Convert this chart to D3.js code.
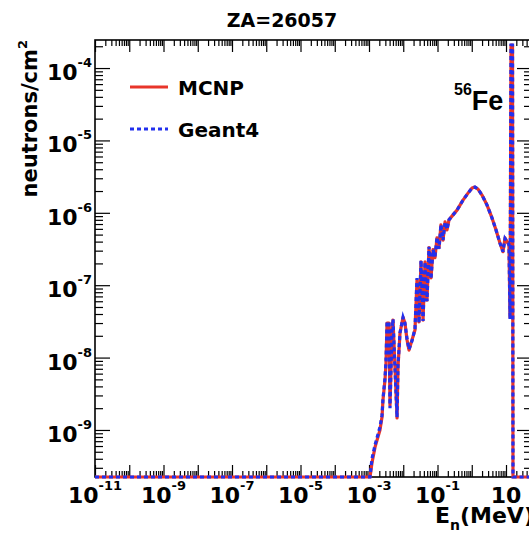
<!DOCTYPE html>
<html>
<head>
<meta charset="utf-8">
<script src="https://cdn.jsdelivr.net/npm/d3@7"></script>
<style>
  body { margin: 0; background: #fff; }
  svg { display: block; }
  text { font-family: "DejaVu Sans", "Liberation Sans", Arial, sans-serif; font-weight: bold; fill: #000; }
</style>
</head>
<body>
<script>
// neutron energy (MeV)
const energy = [1e-11, 1.07e-3, 1.22e-3, 1.50e-3, 2.09e-3, 2.40e-3, 2.56e-3, 2.93e-3, 3.13e-3, 3.36e-3,
  3.84e-3, 4.10e-3, 4.70e-3, 5.02e-3, 5.74e-3, 6.58e-3, 7.03e-3, 8.04e-3, 9.84e-3, 1.12e-2,
  1.29e-2, 1.47e-2, 1.80e-2, 2.20e-2, 2.52e-2, 2.88e-2, 3.30e-2, 3.78e-2, 4.32e-2, 4.93e-2,
  5.65e-2, 6.46e-2, 7.40e-2, 8.45e-2, 9.66e-2, 0.111, 0.126, 0.145, 0.166, 0.189,
  0.217, 0.265, 0.371, 0.556, 0.778, 1.02, 1.24, 1.52, 1.99, 2.79,
  3.90, 5.11, 6.68, 8.17, 9.35, 10.7, 12.2, 13.1, 14.0, 15.5,
  16.0, 57.4];
// neutrons/cm2 (0 = empty bin, drawn on the bottom of the frame)
const mcnp = [0, 0, 3.5e-10, 5.8e-10, 1.0e-9, 1.51e-9, 2.6e-9, 4.9e-9, 8.2e-9, 3.0e-8,
  3.0e-8, 2.2e-9, 2.19e-8, 3.3e-8, 7.4e-9, 1.47e-9, 7.4e-9, 2.19e-8, 3.6e-8, 3.0e-8,
  1.75e-8, 1.27e-8, 1.75e-8, 2.4e-8, 1.18e-7, 3.1e-8, 2.1e-7, 3.3e-8, 2.1e-7, 6.2e-8,
  3.3e-7, 1.26e-7, 3.1e-7, 2.4e-7, 4.5e-7, 3.3e-7, 6.8e-7, 4.2e-7, 7.5e-7, 5.8e-7,
  8.0e-7, 9.0e-7, 1.09e-6, 1.50e-6, 1.87e-6, 2.20e-6, 2.27e-6, 2.13e-6, 1.76e-6, 1.28e-6,
  8.5e-7, 5.8e-7, 3.8e-7, 2.9e-7, 4.5e-7, 4.0e-7, 3.6e-7, 3.6e-8, 2.08e-4, 2.08e-4,
  0, 0];
const geant4 = [0, 0, 4.0e-10, 6.2e-10, 1.1e-9, 1.6e-9, 2.7e-9, 5.2e-9, 9.0e-9, 3.1e-8,
  3.1e-8, 2.0e-9, 2.3e-8, 3.4e-8, 7.0e-9, 1.5e-9, 7.8e-9, 2.2e-8, 3.6e-8, 3.0e-8,
  1.8e-8, 1.3e-8, 1.7e-8, 2.5e-8, 1.25e-7, 3.0e-8, 2.2e-7, 3.2e-8, 2.1e-7, 6.0e-8,
  3.4e-7, 1.22e-7, 3.1e-7, 2.5e-7, 4.6e-7, 3.2e-7, 6.9e-7, 4.2e-7, 7.4e-7, 5.9e-7,
  8.0e-7, 9.0e-7, 1.09e-6, 1.50e-6, 1.87e-6, 2.20e-6, 2.27e-6, 2.13e-6, 1.76e-6, 1.28e-6,
  8.5e-7, 5.8e-7, 3.8e-7, 2.9e-7, 4.4e-7, 4.0e-7, 3.7e-7, 3.4e-8, 2.08e-4, 2.08e-4,
  0, 0];
const seriesNames = ["MCNP", "Geant4"];
const xLabelExp = [-11, -9, -7, -5, -3, -1, 1];
const yLabelExp = [-4, -5, -6, -7, -8, -9];

const W = 529, H = 534;
const frame = { left: 95, right: 532, top: 40, bottom: 477 };

const svg = d3.select("body").append("svg")
  .attr("width", W)
  .attr("height", H);

const x = d3.scaleLog().domain([1e-11, 57.4]).range([frame.left, frame.right]);
const y = d3.scaleLog().domain([2.24e-10, 2.44e-4]).range([frame.bottom, frame.top]).clamp(true);

// decade and minor tick values
function logTicks(lo, hi) {
  const major = [], minor = [];
  for (let k = Math.floor(Math.log10(lo)); k <= Math.ceil(Math.log10(hi)); k++) {
    const p = Math.pow(10, k);
    if (p >= lo && p <= hi) major.push(p);
    for (let m = 2; m <= 9; m++) {
      if (m * p >= lo && m * p <= hi) minor.push(m * p);
    }
  }
  return { major, minor };
}
const xt = logTicks(1e-11, 57.4);
const yt = logTicks(2.24e-10, 2.44e-4);

function tickAxis(axis, g) {
  g.call(axis);
  g.select(".domain").remove();
  g.selectAll(".tick line").attr("stroke", "#000").attr("stroke-width", 1.2);
}

// bottom / top
tickAxis(d3.axisBottom(x).tickValues(xt.major).tickSizeInner(-12).tickSizeOuter(0).tickFormat(""),
  svg.append("g").attr("transform", `translate(0,${frame.bottom})`));
tickAxis(d3.axisBottom(x).tickValues(xt.minor).tickSizeInner(-6).tickSizeOuter(0).tickFormat(""),
  svg.append("g").attr("transform", `translate(0,${frame.bottom})`));
tickAxis(d3.axisTop(x).tickValues(xt.major).tickSizeInner(-12).tickSizeOuter(0).tickFormat(""),
  svg.append("g").attr("transform", `translate(0,${frame.top})`));
tickAxis(d3.axisTop(x).tickValues(xt.minor).tickSizeInner(-6).tickSizeOuter(0).tickFormat(""),
  svg.append("g").attr("transform", `translate(0,${frame.top})`));
// left / right
tickAxis(d3.axisLeft(y).tickValues(yt.major).tickSizeInner(-15).tickSizeOuter(0).tickFormat(""),
  svg.append("g").attr("transform", `translate(${frame.left},0)`));
tickAxis(d3.axisLeft(y).tickValues(yt.minor).tickSizeInner(-8).tickSizeOuter(0).tickFormat(""),
  svg.append("g").attr("transform", `translate(${frame.left},0)`));
tickAxis(d3.axisRight(y).tickValues(yt.major).tickSizeInner(-15).tickSizeOuter(0).tickFormat(""),
  svg.append("g").attr("transform", `translate(${frame.right},0)`));
tickAxis(d3.axisRight(y).tickValues(yt.minor).tickSizeInner(-8).tickSizeOuter(0).tickFormat(""),
  svg.append("g").attr("transform", `translate(${frame.right},0)`));

svg.append("rect")
  .attr("x", frame.left).attr("y", frame.top)
  .attr("width", frame.right - frame.left).attr("height", frame.bottom - frame.top)
  .attr("fill", "none").attr("stroke", "#000").attr("stroke-width", 1.6);

// tick labels 10^k
function powText(t, k) {
  t.append("tspan").attr("font-size", 22).text("10");
  if (k !== 1) {
    t.append("tspan").attr("font-size", 13).attr("dy", -13).text("-" + Math.abs(k));
  }
}
svg.selectAll(".xlab").data(xLabelExp).enter().append("text")
  .attr("class", "xlab")
  .attr("x", k => x(Math.pow(10, k)))
  .attr("y", 503)
  .attr("text-anchor", "middle")
  .each(function(k) { powText(d3.select(this), k); });

svg.selectAll(".ylab").data(yLabelExp).enter().append("text")
  .attr("class", "ylab")
  .attr("x", frame.left - 3)
  .attr("y", k => y(Math.pow(10, k)) + 12)
  .attr("text-anchor", "end")
  .each(function(k) { powText(d3.select(this), k); });

// data lines
const points = s => energy.map((e, i) => ({ e, v: s[i] }));
const line = d3.line()
  .x(d => x(d.e))
  .y(d => d.v > 0 ? y(d.v) : frame.bottom);

svg.append("path").datum(points(mcnp))
  .attr("d", line)
  .attr("fill", "none").attr("stroke", "#e8352a").attr("stroke-width", 3.2)
  .attr("stroke-linejoin", "round");
svg.append("path").datum(points(geant4))
  .attr("d", line)
  .attr("fill", "none").attr("stroke", "#2230ee").attr("stroke-width", 3.2)
  .attr("stroke-dasharray", "4,3");

// legend
const legend = svg.append("g");
legend.selectAll("line").data(seriesNames).enter().append("line")
  .attr("x1", 130).attr("x2", 168)
  .attr("y1", (d, i) => 87 + i * 42).attr("y2", (d, i) => 87 + i * 42)
  .attr("stroke", (d, i) => i === 0 ? "#e8352a" : "#2230ee")
  .attr("stroke-width", 3)
  .attr("stroke-dasharray", (d, i) => i === 0 ? null : "4,3");
legend.selectAll("text").data(seriesNames).enter().append("text")
  .attr("x", 178)
  .attr("y", (d, i) => 95 + i * 42)
  .attr("font-size", 20)
  .text(d => d);

// isotope label
const iso = svg.append("text").attr("x", 454).attr("y", 110)
  .style("font-family", "'Liberation Sans', Arial, sans-serif");
iso.append("tspan").attr("font-size", 16).attr("dy", -15).text("56");
iso.append("tspan").attr("font-size", 27).attr("dy", 15).text("Fe");

// title
svg.append("text")
  .attr("x", 282).attr("y", 27)
  .attr("text-anchor", "middle")
  .attr("font-size", 19)
  .text("ZA=26057");

// axis titles
const yTitle = svg.append("text")
  .attr("transform", "translate(37,40) rotate(-90)")
  .attr("text-anchor", "end")
  .attr("font-size", 21);
yTitle.append("tspan").text("neutrons/cm");
yTitle.append("tspan").attr("font-size", 13).attr("dy", -10).text("2");

const xTitle = svg.append("text")
  .attr("x", 435).attr("y", 523)
  .attr("font-size", 22);
xTitle.append("tspan").text("E");
xTitle.append("tspan").attr("font-size", 14).attr("dy", 7).text("n");
xTitle.append("tspan").attr("dy", -7).text("(MeV)");
</script>
</body>
</html>
